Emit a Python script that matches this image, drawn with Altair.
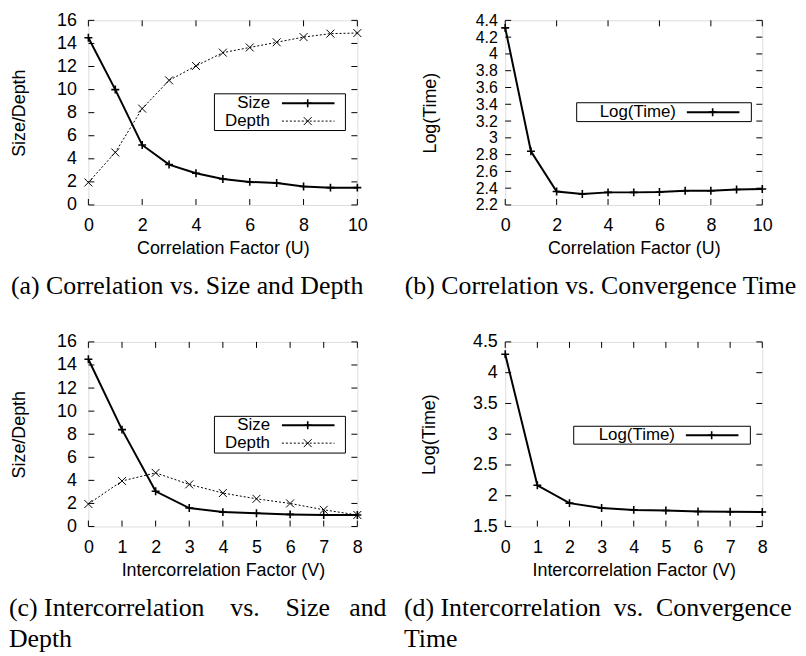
import altair as alt
import pandas as pd

# ---------------- data ----------------
U = list(range(11))
V = list(range(9))

a_size = [14.5, 10.0, 5.2, 3.5, 2.75, 2.25, 2.0, 1.9, 1.6, 1.5, 1.5]
a_depth = [1.95, 4.55, 8.35, 10.8, 12.05, 13.2, 13.65, 14.1, 14.55, 14.85, 14.9]
b_log = [4.31, 2.84, 2.36, 2.33, 2.35, 2.35, 2.355, 2.37, 2.37, 2.385, 2.39]

c_size = [14.5, 8.4, 3.05, 1.6, 1.25, 1.15, 1.05, 1.0, 1.0]
c_depth = [1.95, 3.95, 4.65, 3.65, 2.9, 2.4, 2.0, 1.45, 1.0]
d_log = [4.3, 2.17, 1.88, 1.80, 1.77, 1.76, 1.745, 1.74, 1.735]

yt_sd = [0, 2, 4, 6, 8, 10, 12, 14, 16]
yt_b = [2.2, 2.4, 2.6, 2.8, 3.0, 3.2, 3.4, 3.6, 3.8, 4.0, 4.2, 4.4]
yt_d = [1.5, 2.0, 2.5, 3.0, 3.5, 4.0, 4.5]
xt_u = [0, 2, 4, 6, 8, 10]
xt_v = [0, 1, 2, 3, 4, 5, 6, 7, 8]

NB = "\u00a0"
cap_a = ["(a) Correlation vs. Size and Depth"]
cap_b = ["(b) Correlation vs. Convergence Time"]
cap_c = ["(c) Intercorrelation" + NB * 4 + "vs." + NB * 4 + "Size" + NB * 3 + "and", "Depth"]
cap_d = ["(d) Intercorrelation" + NB * 2 + "vs." + NB * 2 + "Convergence", "Time"]

FONT = "Liberation Sans"
SERIF = "Liberation Serif"
FS = 18
LFS = 17
PLUS = "M-1,0L1,0M0,-1L0,1"
CROSS = "M-1,-1L1,1M-1,1L1,-1"

STYLE = {
    "Size": dict(sw=2, dash=None, shape=PLUS, msw=1.6),
    "Depth": dict(sw=1, dash=[2, 2], shape=CROSS, msw=1.0),
    "Log(Time)": dict(sw=2, dash=None, shape=PLUS, msw=1.6),
}


def panel(xs, series, xlabel, ylabel, xdom, ydom, xticks, yticks, W, H,
          legend, caption, cap_dx, ylfs, ylpad, ytpad):
    xscale = alt.Scale(domain=xdom, nice=False, zero=False)
    yscale = alt.Scale(domain=ydom, nice=False, zero=False)
    X = alt.X("x:Q", scale=xscale, axis=alt.Axis(
        values=xticks, ticks=False, domain=False, grid=False, format="~r",
        labelFont=FONT, labelFontSize=FS, labelColor="black", labelPadding=12,
        labelFlush=False, labelOverlap=False,
        title=xlabel, titleFont=FONT, titleFontSize=FS, titleFontWeight="normal",
        titleColor="black", titlePadding=5))
    Y = alt.Y("y:Q", scale=yscale, axis=alt.Axis(
        values=yticks, ticks=False, domain=False, grid=False, format="~r",
        labelFont=FONT, labelFontSize=ylfs, labelColor="black", labelPadding=ylpad,
        labelFlush=False, labelOverlap=False,
        title=ylabel, titleFont=FONT, titleFontSize=FS, titleFontWeight="normal",
        titleColor="black", titlePadding=ytpad))

    layers = []
    # inward tick marks on all four sides
    ty = pd.DataFrame({"y": yticks})
    tx = pd.DataFrame({"x": xticks})
    layers.append(alt.Chart(ty).mark_rule(color="black", strokeWidth=1).encode(
        y=Y, x=alt.value(0), x2=alt.value(6)))
    layers.append(alt.Chart(ty).mark_rule(color="black", strokeWidth=1).encode(
        y=Y, x=alt.value(W - 6), x2=alt.value(W)))
    layers.append(alt.Chart(tx).mark_rule(color="black", strokeWidth=1).encode(
        x=X, y=alt.value(H), y2=alt.value(H - 6)))
    layers.append(alt.Chart(tx).mark_rule(color="black", strokeWidth=1).encode(
        x=X, y=alt.value(0), y2=alt.value(6)))

    for name, vals in series:
        st = STYLE[name]
        df = pd.DataFrame({"x": xs, "y": vals})
        lkw = dict(color="black", strokeWidth=st["sw"])
        if st["dash"]:
            lkw["strokeDash"] = st["dash"]
        layers.append(alt.Chart(df).mark_line(**lkw).encode(x=X, y=Y))
        layers.append(alt.Chart(df).mark_point(
            shape=st["shape"], size=64, filled=False, color="black",
            strokeWidth=st["msw"], opacity=1).encode(x=X, y=Y))

    # gnuplot style key box
    one = pd.DataFrame({"k": [0]})
    bx0, bx1, by0, by1, txr, lx0, lx1, mx, rows = legend
    layers.append(alt.Chart(one).mark_rect(
        fill="white", stroke="black", strokeWidth=1).encode(
        x=alt.value(bx0), x2=alt.value(bx1), y=alt.value(by0), y2=alt.value(by1)))
    for (name, _), ry in zip(series, rows):
        st = STYLE[name]
        layers.append(alt.Chart(one).mark_text(
            align="right", baseline="middle", font=FONT, fontSize=LFS,
            color="black").encode(
            x=alt.value(txr), y=alt.value(ry), text=alt.value(name)))
        rkw = dict(color="black", strokeWidth=st["sw"])
        if st["dash"]:
            rkw["strokeDash"] = st["dash"]
        layers.append(alt.Chart(one).mark_rule(**rkw).encode(
            x=alt.value(lx0), x2=alt.value(lx1), y=alt.value(ry)))
        layers.append(alt.Chart(one).mark_point(
            shape=st["shape"], size=64, filled=False, color="black",
            strokeWidth=st["msw"], opacity=1).encode(
            x=alt.value(mx), y=alt.value(ry)))

    return alt.layer(*layers).properties(
        width=W, height=H,
        title=alt.Title(text=caption, orient="bottom", anchor="start",
                        frame="bounds", font=SERIF, fontSize=26,
                        fontWeight="normal", color="black", offset=16,
                        dx=cap_dx, lineHeight=31))


pa = panel(U, [("Size", a_size), ("Depth", a_depth)],
           "Correlation Factor (U)", "Size/Depth", [0, 10], [0, 16],
           xt_u, yt_sd, 271, 186,
           (127, 259, 74, 111, 183, 195, 248, 221, [83.5, 101.5]), cap_a, 0, 18, 12, 28)
pb = panel(U, [("Log(Time)", b_log)],
           "Correlation Factor (U)", "Log(Time)", [0, 10], [2.2, 4.4],
           xt_u, yt_b, 259, 186,
           (72, 248, 83, 102, 172, 183, 236, 209, [92.5]), cap_b, -17, 16, 8, 36)
pc = panel(V, [("Size", c_size), ("Depth", c_depth)],
           "Intercorrelation Factor (V)", "Size/Depth", [0, 8], [0, 16],
           xt_v, yt_sd, 271, 186,
           (127, 259, 75, 112, 183, 195, 248, 221, [84, 102]), cap_c, -2, 18, 12, 28)
pd_ = panel(V, [("Log(Time)", d_log)],
            "Intercorrelation Factor (V)", "Log(Time)", [0, 8], [1.5, 4.5],
            xt_v, yt_d, 259, 186,
            (69, 247, 85, 103, 171, 182, 235, 208, [94]), cap_d, -17, 18, 8, 34)

chart = alt.concat(pa, pb, pc, pd_, columns=2,
                   spacing={"row": 138, "column": 149}, bounds="flush").properties(
    padding={"left": 0, "top": 0, "right": 0, "bottom": 0}
).configure_view(stroke="black", strokeWidth=1).configure(background="white")

chart.save("out.html", embed_options={"renderer": "svg", "actions": False})
